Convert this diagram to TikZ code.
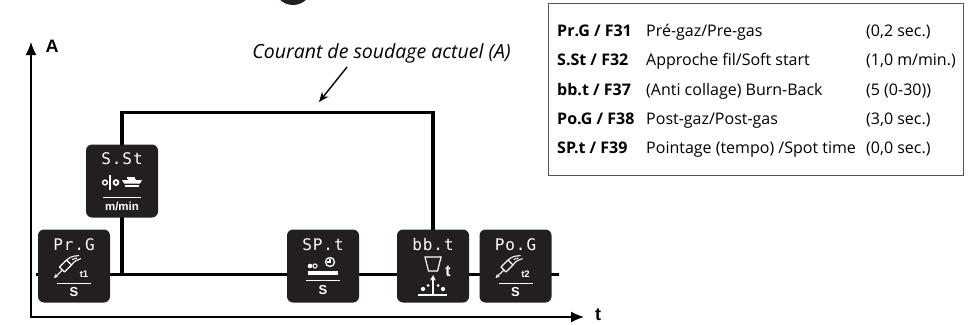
\documentclass[tikz,border=0pt]{standalone}
\usepackage{fontspec}
\setmainfont{Open Sans}
\newfontfamily\arialb{Liberation Sans}
\newfontfamily\segfont[LetterSpace=6]{DejaVu Sans Mono}
\usetikzlibrary{arrows.meta}
\definecolor{boxblack}{HTML}{231F20}
\definecolor{tgray}{HTML}{555555}
\newcommand\torchicon[1]{%
  \begin{scope}[shift={(-4,0.5)}]
  \draw[white, line width=1.1pt, line join=round] (-10.5,0.5) -- (-3.5,-6.5) -- (1.5,-1.5) -- (-5.5,5.5) -- cycle;
  \draw[white, line width=1.1pt] (-3.5,-6.5) -- (0,-9) (1.5,-1.5) -- (4,-4.5);
  \draw[white, line width=1.1pt] (0,-9) .. controls (2,-11) and (5,-10) .. (9,-11);
  \draw[white, line width=1.1pt] (4,-4.5) .. controls (5,-6.5) and (8,-6) .. (11,-8);
  \draw[white, line width=1pt] (2,-7) -- (7,-8.5);
  \draw[white, line width=1.1pt, -{Stealth[length=4pt,width=4pt]}] (-8,4) -- (-16,11.5);
  \end{scope}
  \node[inner sep=0pt, text=white, font=\arialb\bfseries\fontsize{9.5}{9.5}\selectfont] (#1) at (10,8.5) {#1};
}
\begin{document}
\begin{tikzpicture}[x=1pt,y=-1pt,
  dbox/.style={fill=boxblack, rounded corners=6pt, minimum width=72pt, minimum height=73pt, inner sep=0pt},
  seg/.style={inner sep=0pt, text=white, font=\segfont\fontsize{16}{16}\selectfont},
  unitlbl/.style={inner sep=0pt, text=white, font=\arialb\bfseries\fontsize{13}{13}\selectfont},
  wl/.style={draw=white, line width=1pt},
  prof/.style={line width=3.4pt, line join=miter},
  axisline/.style={line width=1.4pt, {Latex[length=13pt,width=11pt]}-{Latex[length=13pt,width=11pt]}},
  tabtxt/.style={anchor=base west, inner sep=0pt, font=\fontsize{16}{16}\selectfont},
  tabb/.style={tabtxt, font=\bfseries\fontsize{16}{16}\selectfont},
  axlbl/.style={inner sep=0pt, font=\arialb\bfseries\fontsize{18}{18}\selectfont}
]
\useasboundingbox (0,0) rectangle (971,324);

% partial black disc at top
\fill[boxblack] (293,-14) circle (19);

% axes
\coordinate (ytip) at (31,42);
\coordinate (xtip) at (584,317);
\draw[axisline] (ytip) |- (xtip);
\node[axlbl] (Alabel) at (52,46) {A};
\node[axlbl] (tlabel) at (598,315) {t};

% current profile
\coordinate (b0) at (36,274.5);
\coordinate (b1) at (559,274.5);
\coordinate (topy) at (0,112.5);
\coordinate (prgc) at (74,266);
\coordinate (sstc) at (122,181);
\coordinate (bbtc) at (433,266);
\draw[prof] (b0) -- (b1);
\draw[prof] (sstc |- b0) -- (sstc |- topy) -- (bbtc |- topy) -- (bbtc);

% boxes
\node[dbox] (prg) at (prgc) {};
\node[dbox] (sst) at (sstc) {};
\node[dbox] (spt) at (323,266) {};
\node[dbox] (bbt) at (bbtc) {};
\node[dbox] (pog) at (515.5,266) {};

% Pr.G
\begin{scope}[shift={(74,266)}]
  \node[seg] (prgT) at (0,-21) {Pr.G};
  \torchicon{t1}
  \draw[wl] (-17,17) -- (17,17);
  \node[unitlbl] (prgS) at (0,26.5) {S};
\end{scope}

% S.St
\begin{scope}[shift={(122,181)}]
  \node[seg] (sstT) at (0,-22) {S.St};
  \draw[white, line width=1.4pt] (-17,1.5) circle (2.4);
  \draw[white, line width=1.5pt] (-12,-6) -- (-12,9);
  \draw[white, line width=1.8pt] (-6,1.5) circle (2.4);
  \draw[white, line width=1.1pt] (5,-3) -- (13,-3);
  \fill[white] (0,-1) -- (20,-1) -- (18,2.5) -- (2,2.5) -- cycle;
  \fill[white] (6,-2) rectangle (14,0);
  \draw[white, line width=1.1pt] (3,5) -- (17,5);
  \draw[wl] (-19,16) -- (19,16);
  \node[unitlbl, font=\arialb\bfseries\fontsize{11.5}{11.5}\selectfont] (sstU) at (0,25.5) {m/min};
\end{scope}

% SP.t
\begin{scope}[shift={(323,266)}]
  \node[seg] (sptT) at (0,-21) {SP.t};
  \fill[white] (-13,0) circle (2.3);
  \draw[white, line width=1pt] (-8,0) circle (2.1);
  \draw[white, line width=1.3pt] (7,-4) circle (4.5);
  \draw[white, line width=1.2pt] (7,-6.8) -- (7,-4) -- (4.3,-4);
  \fill[white] (-15,5) rectangle (15,8.5);
  \draw[wl] (-17,14.5) -- (17,14.5);
  \node[unitlbl] (sptS) at (0,24.5) {S};
\end{scope}

% bb.t
\begin{scope}[shift={(433,266)}]
  \node[seg] (bbtT) at (0,-21) {bb.t};
  \draw[white, line width=1.2pt, line join=miter] (-8,-9) -- (8,-9) -- (4.5,5) -- (-4.5,5) -- cycle;
  \node[inner sep=0pt, text=white, font=\arialb\bfseries\fontsize{16}{16}\selectfont] (bbtt) at (15,5) {t};
  \draw[white, line width=1.3pt, -{Stealth[length=5.5pt,width=5.5pt]}] (0,28) -- (0,9);
  \draw[white, line width=1.8pt] (-15,29) -- (14,29);
  \fill[white] (-10,23) circle (2.1) (-5,19.5) circle (1.5) (5,19.5) circle (1.5) (10,23) circle (2.1);
\end{scope}

% Po.G
\begin{scope}[shift={(515.5,266)}]
  \node[seg] (pogT) at (0,-21) {Po.G};
  \torchicon{t2}
  \draw[wl] (-17,17) -- (17,17);
  \node[unitlbl] (pogS) at (0,26.5) {S};
\end{scope}

% label and arrow
\node[inner sep=0pt, anchor=base, font=\itshape\fontsize{19.5}{19.5}\selectfont] (courant) at (381.5,58) {Courant de soudage actuel (A)};
\coordinate (ca1) at (347,67);
\coordinate (ca2) at (319,102);
\draw[line width=1.4pt, -{Stealth[length=10pt,width=8pt]}] (ca1) -- (ca2);

% table
\node[draw=tgray, line width=1.3pt, anchor=north west, minimum width=415pt, minimum height=172pt, inner sep=0pt] (tab) at (548,3) {};
\node[tabb] (r1a) at (557,36) {Pr.G / F31};
\node[tabtxt] (r1b) at (646,36) {Pré-gaz/Pre-gas};
\node[tabtxt] (r1c) at (866,36) {(0,2 sec.)};
\node[tabb] (r2a) at (557,65.5) {S.St / F32};
\node[tabtxt] (r2b) at (646,65.5) {Approche fil/Soft start};
\node[tabtxt] (r2c) at (866,65.5) {(1,0 m/min.)};
\node[tabb] (r3a) at (557,95) {bb.t / F37};
\node[tabtxt] (r3b) at (646,95) {(Anti collage) Burn-Back};
\node[tabtxt] (r3c) at (866,95) {(5 (0-30))};
\node[tabb] (r4a) at (557,124) {Po.G / F38};
\node[tabtxt] (r4b) at (646,124) {Post-gaz/Post-gas};
\node[tabtxt] (r4c) at (866,124) {(3,0 sec.)};
\node[tabb] (r5a) at (557,153) {SP.t / F39};
\node[tabtxt] (r5b) at (646,153) {Pointage (tempo) /Spot time};
\node[tabtxt] (r5c) at (866,153) {(0,0 sec.)};
\end{tikzpicture}
\end{document}
